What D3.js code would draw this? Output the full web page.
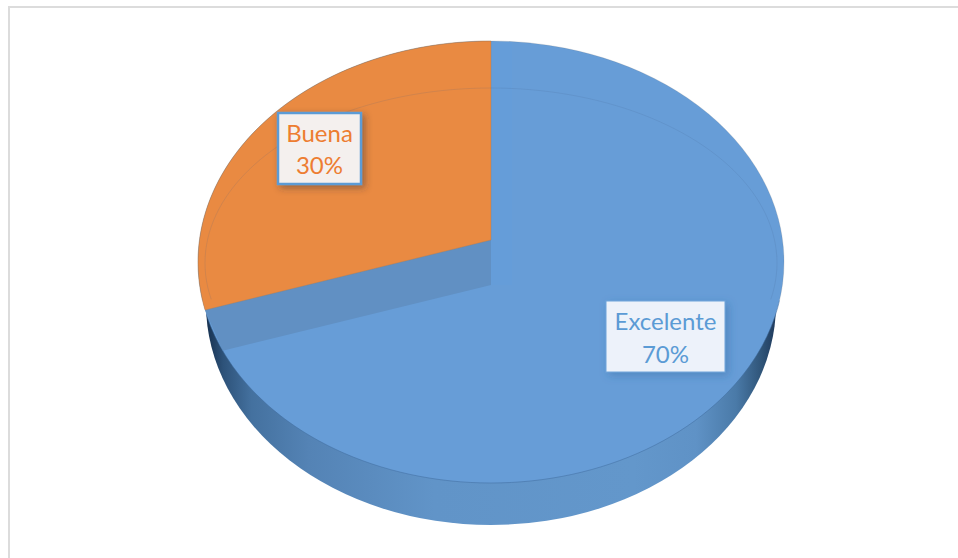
<!DOCTYPE html>
<html>
<head>
<meta charset="utf-8">
<script src="https://cdn.jsdelivr.net/npm/d3@7"></script>
<style>
  html, body { margin: 0; padding: 0; background: #fff; }
  svg { display: block; }
</style>
</head>
<body>
<svg id="chart" width="958" height="558"></svg>
<script>
// Satisfaction split shown as a tilted 3D pie
const categories = ["Excelente", "Buena"];
const percentages = [70, 30];
const percentLabels = ["70%", "30%"];
const sliceColors = ["#679dd7", "#e98a42"];
const labelColors = ["#5b9bd5", "#ed7d31"];

const svg = d3.select("#chart");
const defs = svg.append("defs");

// Projection of the disc: x/y radii of the top face and of the rim below it
const cx = 491;
const face = { cy: 262, rx: 293, ry: 221 };
const rim = { cy: 304, rx: 285, ry: 221 };
const apexY = 240;      // where the raised slice meets the centre axis
const wallApexY = 285;  // the same corner at the foot of the cut wall

const rimStops = [
  [0, "#16304f"], [0.03, "#2d5279"], [0.08, "#44719f"], [0.18, "#5483b5"],
  [0.4, "#6194c8"], [0.75, "#6397cb"], [0.86, "#5f92c6"], [0.93, "#4a7aa8"],
  [0.975, "#2f5478"], [1, "#1f3a5c"]
];
const rimGradient = defs.append("linearGradient").attr("id", "rimShade");
rimGradient.selectAll("stop").data(rimStops).join("stop")
  .attr("offset", d => d[0]).attr("stop-color", d => d[1]);

function addShadow(id, color, opacity, blur) {
  defs.append("filter").attr("id", id)
    .attr("x", "-20%").attr("y", "-20%").attr("width", "150%").attr("height", "150%")
    .append("feDropShadow")
    .attr("dx", 3).attr("dy", 3).attr("stdDeviation", blur)
    .attr("flood-color", color).attr("flood-opacity", opacity);
}
addShadow("shadowExcelente", "#2f5f96", 0.35, 4);
addShadow("shadowBuena", "#2a2f3c", 0.42, 3.5);

// Pie angles: the smaller slice runs anticlockwise from twelve o'clock
const pie = d3.pie().sort(null).startAngle(0).endAngle(2 * Math.PI);
const arcs = pie(percentages);
const sweep = 2 * Math.PI - arcs[1].startAngle;
const dir = { x: -Math.sin(sweep) * face.rx, y: -Math.cos(sweep) * face.ry };

// Where a ray from (cx, y0) along dir leaves the top ellipse
function rayHit(y0) {
  const a = (dir.x / face.rx) ** 2 + (dir.y / face.ry) ** 2;
  const b = 2 * (y0 - face.cy) * dir.y / face.ry ** 2;
  const c = ((y0 - face.cy) / face.ry) ** 2 - 1;
  const s = (-b + Math.sqrt(b * b - 4 * a * c)) / (2 * a);
  return [cx + s * dir.x, y0 + s * dir.y];
}

function ellipsePoints(e, fromDeg, toDeg) {
  return d3.range(fromDeg, toDeg + 1, 2).map(deg => {
    const t = deg * Math.PI / 180;
    return [cx + Math.sin(t) * e.rx, e.cy - Math.cos(t) * e.ry];
  });
}

// Frame: left and top rules only
svg.append("path")
  .attr("d", "M9,558V7H958")
  .attr("fill", "none").attr("stroke", "#dcdcdc").attr("stroke-width", 2);

// Rim, then the top face on top of it
svg.append("ellipse")
  .attr("cx", cx).attr("cy", rim.cy).attr("rx", rim.rx).attr("ry", rim.ry)
  .attr("fill", "url(#rimShade)");
svg.append("ellipse")
  .attr("cx", cx).attr("cy", face.cy).attr("rx", face.rx).attr("ry", face.ry)
  .attr("fill", sliceColors[0]);

// Cut wall below the raised slice
const edgeHi = rayHit(apexY);
const edgeLo = rayHit(wallApexY);
svg.append("path")
  .attr("d", d3.line()([[cx, apexY], edgeHi, edgeLo, [cx, wallApexY]]) + "Z")
  .attr("fill", "#6190c3");

// Lighter wall seam to the right of the axis
svg.append("rect")
  .attr("x", cx).attr("y", face.cy - face.ry + 1)
  .attr("width", 21).attr("height", wallApexY - (face.cy - face.ry) - 1)
  .attr("fill", "#5fa0e2").attr("opacity", 0.2);

// Raised slice: a sector of the top ellipse, closed at the axis
const tEnd = Math.atan2(-(edgeHi[0] - cx) / face.rx, -(edgeHi[1] - face.cy) / face.ry);
const sectorPts = d3.range(0, 61).map(i => {
  const t = tEnd * i / 60;
  return [cx - Math.sin(t) * face.rx, face.cy - Math.cos(t) * face.ry];
});
svg.append("path")
  .attr("d", d3.line()([[cx, apexY], ...sectorPts]) + "Z")
  .attr("fill", sliceColors[1])
  .attr("stroke", "#a9794f").attr("stroke-opacity", 0.6).attr("stroke-width", 0.6);

// Faint bevel line following the upper edge
const bevel = { cy: 263, rx: 286, ry: 175 };
svg.append("path")
  .attr("d", d3.line()(ellipsePoints(bevel, -102, 102)))
  .attr("fill", "none").attr("stroke", "#3d5f85").attr("stroke-opacity", 0.18).attr("stroke-width", 0.8);

// Thin outlines on the upper edge and along the top-face front
svg.append("path")
  .attr("d", d3.line()(ellipsePoints(face, -100, 100)))
  .attr("fill", "none").attr("stroke", "#5a5a5a").attr("stroke-opacity", 0.22).attr("stroke-width", 0.7);
svg.append("path")
  .attr("d", d3.line()(ellipsePoints(face, 100, 256)))
  .attr("fill", "none").attr("stroke", "#3f6c9e").attr("stroke-opacity", 0.5).attr("stroke-width", 1);

// Data labels
const boxes = [
  { x: 606, y: 301, w: 119, h: 71, fill: "#edf2fa", border: "#6ea4da", bw: 1, shadow: "shadowExcelente", lines: [330, 363] },
  { x: 278, y: 113, w: 83, h: 71, fill: "#f4f0ee", border: "#5b9bd5", bw: 2.5, shadow: "shadowBuena", lines: [142, 174] }
];
const label = svg.append("g").selectAll("g").data(categories).join("g");
label.append("rect")
  .attr("x", (d, i) => boxes[i].x).attr("y", (d, i) => boxes[i].y)
  .attr("width", (d, i) => boxes[i].w).attr("height", (d, i) => boxes[i].h)
  .attr("fill", (d, i) => boxes[i].fill)
  .attr("stroke", (d, i) => boxes[i].border)
  .attr("stroke-width", (d, i) => boxes[i].bw)
  .attr("filter", (d, i) => `url(#${boxes[i].shadow})`);
label.append("text")
  .attr("x", (d, i) => boxes[i].x + boxes[i].w / 2).attr("y", (d, i) => boxes[i].lines[0])
  .attr("text-anchor", "middle").attr("font-family", "Lato, 'Open Sans', sans-serif").attr("font-size", 24)
  .attr("fill", (d, i) => labelColors[i]).text(d => d);
label.append("text")
  .attr("x", (d, i) => boxes[i].x + boxes[i].w / 2).attr("y", (d, i) => boxes[i].lines[1])
  .attr("text-anchor", "middle").attr("font-family", "Lato, 'Open Sans', sans-serif").attr("font-size", 24)
  .attr("fill", (d, i) => labelColors[i]).text((d, i) => percentLabels[i]);
</script>
</body>
</html>
